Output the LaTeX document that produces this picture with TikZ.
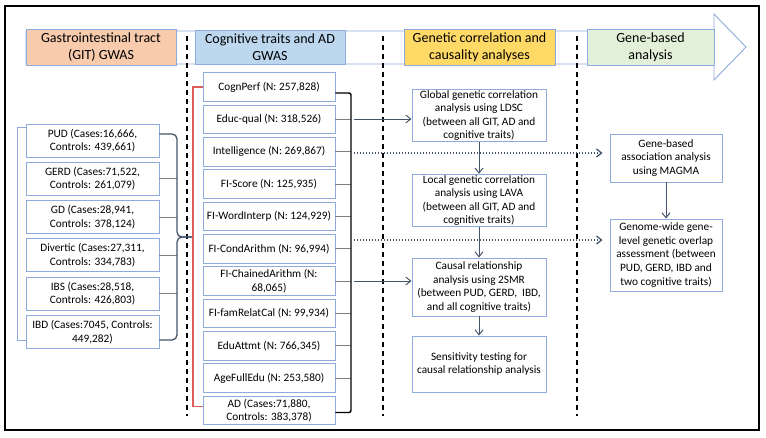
\documentclass[tikz,border=0pt]{standalone}
\usepackage{fontspec}
\setmainfont{Carlito}
\usetikzlibrary{arrows.meta}

\definecolor{boxblue}{RGB}{143,170,220}
\definecolor{slate}{RGB}{68,84,106}
\definecolor{hdorange}{RGB}{248,203,173}
\definecolor{hdblue}{RGB}{189,215,238}
\definecolor{hdyellow}{RGB}{255,217,102}
\definecolor{hdgreen}{RGB}{226,240,217}
\definecolor{redline}{RGB}{222,92,92}

\begin{document}
\begin{tikzpicture}[x=1pt,y=-1pt]
  \tikzset{
    box/.style={draw=boxblue, line width=0.9pt, fill=white, align=center,
      inner sep=1pt, font=\fontsize{11.3}{13.6}\selectfont},
    gitbox/.style={box, minimum width=133pt, minimum height=33pt},
    cogbox/.style={box, minimum width=132pt, minimum height=28.5pt},
    corbox/.style={box, minimum width=134pt},
    genbox/.style={box, minimum width=112pt},
    header/.style={draw=boxblue, line width=0.9pt, align=center,
      minimum height=33pt, font=\fontsize{14}{17}\selectfont},
    phase/.style={black, line width=1.3pt, dash pattern=on 5pt off 4pt},
    tick/.style={gray, line width=0.8pt},
    flow/.style={slate, line width=1pt, -{Straight Barb[length=5pt,width=8pt]}},
    dotflow/.style={flow, dotted, line width=1.3pt, shorten >=7pt}
  }
  \useasboundingbox (0,0) rectangle (766,437);

  % frame
  \draw[line width=1.4pt] (5,6) rectangle (759,430);

  % timeline arrow
  \draw[boxblue, line width=0.9pt, fill=white]
    (26,31) -- (714,31) -- (714,14) -- (746,47) -- (714,80) -- (714,64) -- (26,64) -- cycle;

  % headers
  \node[header, fill=hdorange, minimum width=150pt] (h_git) at (101,47.5)
    {Gastrointestinal tract\\(GIT) GWAS};
  \node[header, fill=hdblue, minimum width=150pt] (h_cog) at (270,47.5)
    {Cognitive traits and AD\\GWAS};
  \node[header, fill=hdyellow, minimum width=151pt] (h_cor) at (479.5,47.5)
    {Genetic correlation and\\causality analyses};
  \node[header, fill=hdgreen, minimum width=127pt] (h_gen) at (650.5,47.5)
    {Gene-based\\analysis};

  % phase separators
  \draw[phase] (187,36) -- (187,416);
  \draw[phase] (383,36) -- (383,416);
  \draw[phase] (577,36) -- (577,416);

  % GIT GWAS
  \node[gitbox] (pud) at (92.5,140.5) {PUD (Cases:16,666,\\Controls: 439,661)};
  \node[gitbox] (gerd) at (92.5,178.8) {GERD (Cases:71,522,\\Controls: 261,079)};
  \node[gitbox] (gd) at (92.5,217.1) {GD (Cases:28,941,\\Controls: 378,124)};
  \node[gitbox] (divertic) at (92.5,255.4) {Divertic (Cases:27,311,\\Controls: 334,783)};
  \node[gitbox] (ibs) at (92.5,293.7) {IBS (Cases:28,518,\\Controls: 426,803)};
  \node[gitbox] (ibd) at (92.5,332) {IBD (Cases:7045, Controls:\\449,282)};

  % cognitive traits and AD
  \node[cogbox] (cognperf) at (269,87) {CognPerf (N: 257,828)};
  \node[cogbox] (educqual) at (269,119.35) {Educ-qual (N: 318,526)};
  \node[cogbox] (intel) at (269,151.7) {Intelligence (N: 269,867)};
  \node[cogbox] (fiscore) at (269,184.05) {FI-Score (N: 125,935)};
  \node[cogbox] (fiword) at (269,216.4) {FI-WordInterp (N: 124,929)};
  \node[cogbox] (ficond) at (269,248.75) {FI-CondArithm (N: 96,994)};
  \node[cogbox] (fichain) at (269,281.1) {FI-ChainedArithm (N:\\68,065)};
  \node[cogbox] (fifam) at (269,313.45) {FI-famRelatCal (N: 99,934)};
  \node[cogbox] (eduatt) at (269,345.8) {EduAttmt (N: 766,345)};
  \node[cogbox] (agefull) at (269,378.15) {AgeFullEdu (N: 253,580)};
  \node[cogbox] (ad) at (269,410.5) {AD (Cases:71,880,\\Controls: 383,378)};

  % correlation and causality
  \node[corbox, minimum height=51pt] (global) at (479,115.5)
    {Global genetic correlation\\analysis using LDSC\\(between all GIT, AD and\\cognitive traits)};
  \node[corbox, minimum height=51pt] (local) at (479,200.5)
    {Local genetic correlation\\analysis using LAVA\\(between all GIT, AD and\\cognitive traits)};
  \node[corbox, minimum height=58pt] (causal) at (479,287)
    {Causal relationship\\analysis using 2SMR\\(between PUD, GERD,\ \ IBD,\\and all cognitive traits)};
  \node[corbox, minimum height=56pt] (sensit) at (479,364)
    {Sensitivity testing for\\causal relationship analysis};

  % gene-based
  \node[genbox, minimum height=48pt] (genebased) at (666,158)
    {Gene-based\\association analysis\\using MAGMA};
  \node[genbox, minimum height=72pt] (genome) at (666,255)
    {Genome-wide gene-\\level genetic overlap\\assessment (between\\PUD, GERD, IBD and\\two cognitive traits)};

  % brackets
  \coordinate (lbx) at (17,0);
  \coordinate (gbx) at (177,0);
  \coordinate (gtip) at (192,237);
  \coordinate (redx) at (193,0);
  \coordinate (rbx) at (351,0);

  \draw[boxblue, line width=1pt] ([yshift=13.5pt]pud.west) -- ([yshift=13.5pt]pud.west -| lbx)
    -- ([yshift=-8pt]ibd.west -| lbx) -- ([yshift=-8pt]ibd.west);
  \foreach \n in {gerd,gd,divertic,ibs}
    \draw[tick] (\n.east) -- (\n.east -| gbx);
  \draw[slate, line width=1.3pt, rounded corners=5pt]
    ([yshift=6.5pt]pud.east) -- ([yshift=6.5pt]pud.east -| gbx) -- (gtip -| gbx) -- (gtip);
  \draw[slate, line width=1.3pt, rounded corners=5pt]
    (gtip) -- (gtip -| gbx) -- ([yshift=-8pt]ibd.east -| gbx) -- ([yshift=-8pt]ibd.east);

  \draw[redline, line width=1.2pt] (cognperf.west) -- (cognperf.west -| redx)
    -- ([yshift=4pt]ad.west -| redx) -- ([yshift=4pt]ad.west);

  \foreach \n in {educqual,intel,fiscore,fiword,ficond,fichain,fifam,eduatt,agefull}
    \draw[tick] (\n.east) -- (\n.east -| rbx);
  \draw[black, line width=1.4pt, rounded corners=2pt]
    ([yshift=-6pt]cognperf.east) -- ([yshift=-6pt]cognperf.east -| rbx)
    -- ([yshift=-2pt]ad.east -| rbx) -- ([yshift=-2pt]ad.east);

  % links
  \coordinate (r1) at (354,119);
  \coordinate (r2) at (354,153);
  \coordinate (r3) at (354,240);
  \coordinate (r4) at (354,281);
  \draw[flow] (r1) -- (r1 -| global.west);
  \draw[dotflow] (r2) -- (r2 -| genebased.west);
  \draw[dotflow] (r3) -- (r3 -| genome.west);
  \draw[flow] (r4) -- (r4 -| causal.west);

  \draw[flow] (global) -- (local);
  \draw[flow] (local) -- (causal);
  \draw[flow] (causal) -- (sensit);
  \draw[flow] (genebased) -- (genome);
\end{tikzpicture}
\end{document}
